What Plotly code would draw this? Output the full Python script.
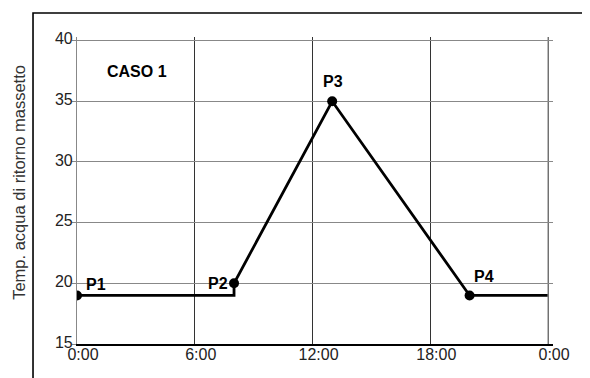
import plotly.graph_objects as go

# Data
path_hours = [0, 8, 8, 13, 20, 24]
path_temps = [19, 19, 20, 35, 19, 19]
point_names = ["P1", "P2", "P3", "P4"]
point_hours = [0, 8, 13, 20]
point_temps = [19, 20, 35, 19]
x_tickvals = [0, 6, 12, 18, 24]
x_ticktext = ["0:00", "6:00", "12:00", "18:00", "0:00"]
y_tickvals = [15, 20, 25, 30, 35, 40]
y_title = "Temp. acqua di ritorno massetto"
case_label = "CASO 1"

FONT = "Liberation Sans, Arial, sans-serif"

fig = go.Figure()
fig.add_trace(go.Scatter(x=path_hours, y=path_temps, mode="lines",
                         line=dict(color="black", width=2.8), hoverinfo="skip",
                         showlegend=False))
fig.add_trace(go.Scatter(x=point_hours, y=point_temps, mode="markers",
                         marker=dict(color="black", size=10), showlegend=False,
                         text=point_names))

# point labels
label_pos = {
    "P1": dict(xanchor="left", xshift=7, yshift=11),
    "P2": dict(xanchor="right", xshift=-4, yshift=0),
    "P3": dict(xanchor="center", xshift=1, yshift=20),
    "P4": dict(xanchor="left", xshift=2, yshift=19),
}
for n, xh, yt in zip(point_names, point_hours, point_temps):
    p = label_pos[n]
    fig.add_annotation(x=xh, y=yt, text="<b>%s</b>" % n, showarrow=False,
                       xanchor=p["xanchor"], yanchor="middle",
                       xshift=p["xshift"], yshift=p["yshift"],
                       font=dict(family=FONT, size=16, color="black"))

fig.add_annotation(x=1.45, y=37.45, text="<b>%s</b>" % case_label, showarrow=False,
                   xanchor="left", yanchor="middle",
                   font=dict(family=FONT, size=16, color="black"))

# y-axis title
fig.add_annotation(xref="paper", yref="paper", x=-0.1233, y=0.526, text=y_title,
                   textangle=-90, showarrow=False, xanchor="center", yanchor="middle",
                   font=dict(family=FONT, size=16.5, color="#333"))

# outer frame (left and top only)
fig.add_shape(type="path", xref="paper", yref="paper",
              path="M -0.0924 -0.2 L -0.0924 1.078 L 1.2 1.078",
              line=dict(color="black", width=1.6))

# last vertical grid line is grey in the reference
fig.add_shape(type="line", xref="x", yref="paper", x0=x_tickvals[-1], x1=x_tickvals[-1],
              y0=0, y1=1, line=dict(color="#888", width=1.3), layer="above")

# page body has an 8px margin, so the figure is offset by (8, 8)
fig.update_layout(
    width=582, height=370,
    margin=dict(l=69, r=37, t=29, b=34, autoexpand=False),
    paper_bgcolor="white", plot_bgcolor="white",
    font=dict(family=FONT, size=16, color="#222"),
    xaxis=dict(range=[0, 24.25], tickvals=x_tickvals, ticktext=x_ticktext,
               showgrid=True, gridcolor="#333", gridwidth=1,
               showline=True, linecolor="black", linewidth=1.5,
               ticks="", zeroline=False, ticklabelshift=6, ticklabelstandoff=-5,
               automargin=False,
               tickfont=dict(family=FONT, size=16, color="#222")),
    yaxis=dict(range=[15, 40.3], tickvals=y_tickvals,
               showgrid=True, gridcolor="#888", gridwidth=1.2,
               showline=True, linecolor="#888", linewidth=1.2,
               ticks="outside", ticklen=4, tickcolor="#888",
               zeroline=False, ticklabelshift=-2, ticklabelstandoff=-4,
               automargin=False,
               tickfont=dict(family=FONT, size=16, color="#222")),
)

fig.write_html("out.html")
